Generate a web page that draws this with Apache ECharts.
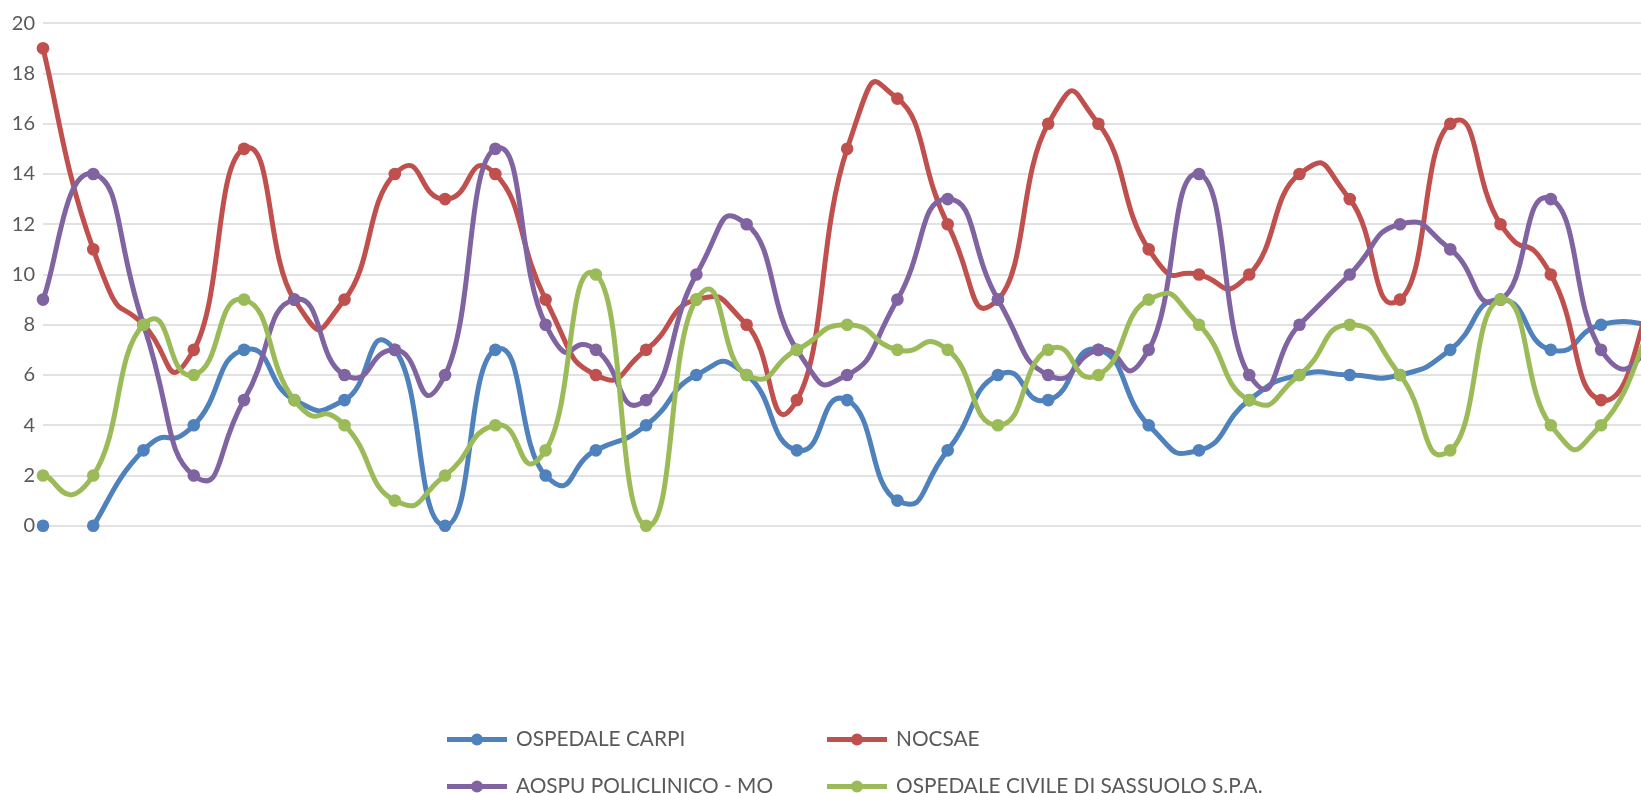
<!DOCTYPE html>
<html>
<head>
<meta charset="utf-8">
<title>Ospedali</title>
<script src="https://cdn.jsdelivr.net/npm/echarts@6/dist/echarts.min.js"></script>
<style>
  html, body { margin: 0; padding: 0; background: #ffffff; }
  #chart { width: 1641px; height: 793px; }
</style>
</head>
<body>
<div id="chart"></div>
<script>
// Category slots along the horizontal axis (labels are not shown)
const categories = ['1','2','3','4','5','6','7','8','9','10','11','12','13','14','15','16','17',
  '18','19','20','21','22','23','24','25','26','27','28','29','30','31','32','33'];

const yTicks = { min: 0, max: 20, interval: 2 };

const seriesNames = ['OSPEDALE CARPI', 'NOCSAE', 'AOSPU POLICLINICO - MO', 'OSPEDALE CIVILE DI SASSUOLO S.P.A.'];

const carpi    = [0, 0, 3, 4, 7, 5, 5, 7, 0, 7, 2, 3, 4, 6, 6, 3, 5, 1, 3, 6, 5, 7, 4, 3, 5, 6, 6, 6, 7, 9, 7, 8, 8];
const nocsae   = [19, 11, 8, 7, 15, 9, 9, 14, 13, 14, 9, 6, 7, 9, 8, 5, 15, 17, 12, 9, 16, 16, 11, 10, 10, 14, 13, 9, 16, 12, 10, 5, 9];
const aospu    = [9, 14, 8, 2, 5, 9, 6, 7, 6, 15, 8, 7, 5, 10, 12, 7, 6, 9, 13, 9, 6, 7, 7, 14, 6, 8, 10, 12, 11, 9, 13, 7, 7];
const sassuolo = [2, 2, 8, 6, 9, 5, 4, 1, 2, 4, 3, 10, 0, 9, 6, 7, 8, 7, 7, 4, 7, 6, 9, 8, 5, 6, 8, 6, 3, 9, 4, 4, 8];

const colors = ['#4F81BD', '#C0504D', '#8064A2', '#9BBB59'];

const FONT = 'Lato, "Liberation Sans", sans-serif';
const LINE_W = 5;
const DOT_R = 6.3;
const TENSION = 0.29;   // control-point reach along the neighbour chord

// Legend glyph: a short stroke with a dot in the middle
const LEGEND_ICON = 'path://M0,3.5L60,3.5L60,8.5L0,8.5Z M36,6A6,6,0,1,1,24,6A6,6,0,1,1,36,6Z';

// Smoothed line with round markers; each item draws its marker and the
// curve piece to the next item, using the axes to place the points.
// `firstJoined` is the first index that is linked into the line.
function smoothSeries(name, values, color, z, firstJoined) {
  const start = firstJoined || 0;
  return {
    name: name,
    type: 'custom',
    coordinateSystem: 'cartesian2d',
    data: values.map((v, i) => [i, v]),
    encode: { x: 0, y: 1 },
    z: z,
    clip: false,
    silent: true,
    animation: false,
    itemStyle: { color: color },
    renderItem: function (params, api) {
      const i = params.dataIndex;
      const ok = j => j >= start && j < values.length && values[j] != null;
      const pt = j => api.coord([j, values[j]]);
      const children = [];
      if (ok(i) && ok(i + 1)) {
        const p1 = pt(i), p2 = pt(i + 1);
        const p0 = ok(i - 1) ? pt(i - 1) : p1;
        const p3 = ok(i + 2) ? pt(i + 2) : p2;
        children.push({
          type: 'bezierCurve',
          z2: 0,
          shape: {
            x1: p1[0], y1: p1[1], x2: p2[0], y2: p2[1],
            cpx1: p1[0] + (p2[0] - p0[0]) * TENSION,
            cpy1: p1[1] + (p2[1] - p0[1]) * TENSION,
            cpx2: p2[0] - (p3[0] - p1[0]) * TENSION,
            cpy2: p2[1] - (p3[1] - p1[1]) * TENSION
          },
          style: { stroke: color, lineWidth: LINE_W, fill: null, lineCap: 'round', lineJoin: 'round' }
        });
      }
      if (values[i] != null) {
        const c = api.coord([i, values[i]]);
        children.push({
          type: 'circle',
          z2: 1,
          shape: { cx: c[0], cy: c[1], r: DOT_R },
          style: { fill: color }
        });
      }
      return { type: 'group', children: children };
    }
  };
}

const chart = echarts.init(document.getElementById('chart'), null, { renderer: 'canvas' });

const slot = 50.26;

// one legend entry per block so the two columns line up
function legendEntry(name, left, top) {
  return {
    data: [{ name: name, icon: LEGEND_ICON }],
    orient: 'vertical',
    left: left,
    top: top,
    padding: 0,
    itemWidth: 60,
    itemHeight: 12,
    selectedMode: false,
    textStyle: { color: '#595959', fontFamily: FONT, fontSize: 20.8, lineHeight: 16, padding: [0, 0, 0, 4] }
  };
}

chart.setOption({
  backgroundColor: '#ffffff',
  animation: false,
  color: colors,
  grid: {
    left: 43,
    top: 23.2,
    height: 502.5,
    width: slot * (categories.length - 1),
    outerBoundsMode: 'none',
    containLabel: false
  },
  xAxis: {
    type: 'category',
    data: categories,
    boundaryGap: false,
    axisLine: { show: false },
    axisTick: { show: false },
    axisLabel: { show: false },
    splitLine: { show: false }
  },
  yAxis: {
    type: 'value',
    min: yTicks.min,
    max: yTicks.max,
    interval: yTicks.interval,
    axisLine: { show: false },
    axisTick: { show: false },
    axisLabel: { color: '#595959', fontFamily: FONT, fontSize: 20, margin: 8 },
    splitLine: { lineStyle: { color: '#D9D9D9', width: 1.5 } }
  },
  legend: [
    legendEntry(seriesNames[0], 447, 729),
    legendEntry(seriesNames[1], 827, 729),
    legendEntry(seriesNames[2], 447, 776),
    legendEntry(seriesNames[3], 827, 776)
  ],
  series: [
    // the first Carpi reading stands alone; its line starts at the second one
    smoothSeries(seriesNames[0], carpi, colors[0], 2, 1),
    smoothSeries(seriesNames[1], nocsae, colors[1], 3),
    smoothSeries(seriesNames[2], aospu, colors[2], 4),
    smoothSeries(seriesNames[3], sassuolo, colors[3], 5)
  ]
});
</script>
</body>
</html>
